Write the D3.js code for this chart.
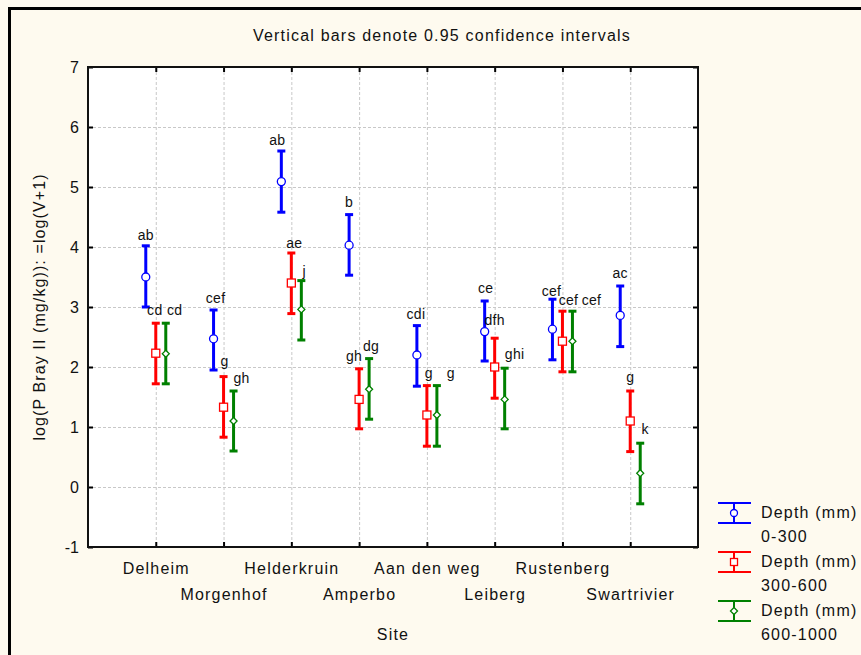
<!DOCTYPE html>
<html>
<head>
<meta charset="utf-8">
<script src="https://cdn.jsdelivr.net/npm/d3@7"></script>
<style>
  body { margin: 0; background: #fefaef; }
  text { font-family: "Liberation Sans", Arial, sans-serif; fill: #111; }
</style>
</head>
<body>
<div id="chart"></div>
<script>
"use strict";

var sites = ["Delheim", "Morgenhof", "Helderkruin", "Amperbo", "Aan den weg", "Leiberg", "Rustenberg", "Swartrivier"];
var depths = ["0-300", "300-600", "600-1000"];
var yTicks = [-1, 0, 1, 2, 3, 4, 5, 6, 7];

// 0-300 mm
var mean0 = [3.50, 2.47, 5.09, 4.03, 2.20, 2.59, 2.63, 2.86];
var low0  = [3.00, 1.95, 4.58, 3.53, 1.68, 2.10, 2.12, 2.34];
var high0 = [4.02, 2.95, 5.60, 4.54, 2.69, 3.10, 3.13, 3.35];
var letters0 = ["ab", "cef", "ab", "b", "cdi", "ce", "cef", "ac"];

// 300-600 mm
var mean1 = [2.23, 1.33, 3.40, 1.46, 1.20, 2.00, 2.43, 1.10];
var low1  = [1.72, 0.83, 2.89, 0.97, 0.68, 1.48, 1.92, 0.59];
var high1 = [2.73, 1.84, 3.90, 1.97, 1.69, 2.48, 2.93, 1.60];
var letters1 = ["cd", "g", "ae", "gh", "g", "dfh", "cef", "g"];

// 600-1000 mm
var mean2 = [2.22, 1.10, 2.96, 1.63, 1.20, 1.46, 2.43, 0.23];
var low2  = [1.72, 0.60, 2.45, 1.13, 0.68, 0.97, 1.92, -0.28];
var high2 = [2.73, 1.60, 3.44, 2.14, 1.69, 1.98, 2.93, 0.73];
var letters2 = ["cd", "gh", "j", "dg", "g", "ghi", "cef", "k"];

// hand placed letter nudges (layout only)
var labelDx  = [[0, 2, -4, 0, -1, 1, -1, 0], [-1, 1, 3, -5, 2, 0, 6, 0], [9, 8, 3, 2, 14, 10, 19, 5]];
var labelGap = [[6, 7, 6, 8, 7, 8, 3, 8], [8, 11, 5, 8, 8, 13, 6, 9], [8, 8, 5, 8, 8, 9, 6, 9]];

var colors = ["#0000ff", "#ff0000", "#008000"];
var offsets = [-10, 0, 10];

var series = [
    {means: mean0, lows: low0, highs: high0, letters: letters0},
    {means: mean1, lows: low1, highs: high1, letters: letters1},
    {means: mean2, lows: low2, highs: high2, letters: letters2}
];

var W = 861, H = 655;
var margin = {left: 88, top: 67, right: 163, bottom: 108};
var width = W - margin.left - margin.right,
    height = H - margin.top - margin.bottom;

var x = d3.scalePoint().domain(sites).range([0, width]).padding(1),
    y = d3.scaleLinear().domain([-1, 7]).range([height, 0]);

var svg0 = d3.select("#chart").append("svg")
    .attr("width", W)
    .attr("height", H);

svg0.append("rect").attr("width", W).attr("height", H).attr("fill", "#fefaef");

// outer frame (left and top only)
svg0.append("path")
    .attr("d", "M9.5," + H + "V8.5H" + W)
    .attr("fill", "none")
    .attr("stroke", "#000")
    .attr("stroke-width", 3);

svg0.append("text")
    .attr("x", 442).attr("y", 41)
    .attr("text-anchor", "middle")
    .attr("font-size", 16)
    .attr("letter-spacing", 1.2)
    .text("Vertical bars denote 0.95 confidence intervals");

var svg = svg0.append("g")
    .attr("transform", "translate(" + margin.left + "," + margin.top + ")");

svg.append("rect")
    .attr("width", width).attr("height", height)
    .attr("fill", "#fff");

// grid
svg.append("g")
    .attr("class", "grid")
    .call(d3.axisLeft(y).tickValues(yTicks.slice(1, -1)).tickSize(-width).tickFormat(""))
    .call(g => g.select(".domain").remove());
svg.append("g")
    .attr("class", "grid")
    .call(d3.axisTop(x).tickSize(-height).tickFormat(""))
    .call(g => g.select(".domain").remove());
svg.selectAll(".grid line")
    .attr("stroke", "#c8c8c8")
    .attr("stroke-dasharray", "3,2");

// axes, ticks pointing in
var yAxis = svg.append("g")
    .call(d3.axisLeft(y).tickValues(yTicks).tickSize(-5).tickPadding(9).tickFormat(d => String(d)));
svg.append("g")
    .attr("transform", "translate(" + width + ",0)")
    .call(d3.axisRight(y).tickValues(yTicks).tickSize(-5).tickFormat(""));
svg.append("g")
    .call(d3.axisTop(x).tickSize(-5).tickFormat(""));
var xAxis = svg.append("g")
    .attr("transform", "translate(0," + height + ")")
    .call(d3.axisBottom(x).tickSize(-5).tickPadding(0));

svg.selectAll(".domain").remove();
svg.selectAll(".tick line").filter(function() { return !this.parentNode.parentNode.classList.contains("grid"); })
    .attr("stroke", "#000").attr("stroke-width", 2);

yAxis.selectAll("text")
    .attr("font-size", 16)
    .attr("font-family", null)
    .attr("fill", "#111");

xAxis.selectAll(".tick text")
    .attr("font-size", 16)
    .attr("font-family", null)
    .attr("fill", "#111")
    .attr("letter-spacing", 1.2)
    .attr("y", (d, i) => i % 2 ? 53 : 27)
    .attr("dy", null);

svg.append("rect")
    .attr("width", width).attr("height", height)
    .attr("fill", "none")
    .attr("stroke", "#111")
    .attr("stroke-width", 2);

// error bars
function marker(sel, k, c, s) {
    if (k == 0) {
        sel.append("circle").attr("r", s).attr("fill", "#fff").attr("stroke", c).attr("stroke-width", 1.3);
    } else if (k == 1) {
        sel.append("rect").attr("x", -s).attr("y", -s).attr("width", 2 * s).attr("height", 2 * s)
            .attr("fill", "#fff").attr("stroke", c).attr("stroke-width", 1.3);
    } else {
        sel.append("path").attr("d", "M0," + (-s) + "L" + s + ",0L0," + s + "L" + (-s) + ",0Z")
            .attr("fill", "#fff").attr("stroke", c).attr("stroke-width", 1.3);
    }
}

series.forEach(function(s, k) {
    var c = colors[k];
    var g = svg.append("g");
    var bars = g.selectAll(".bar" + k)
        .data(sites)
        .enter()
        .append("g")
        .attr("transform", (d, i) => "translate(" + (x(d) + offsets[k]) + ",0)");

    bars.append("line")
        .attr("y1", (d, i) => y(s.lows[i]))
        .attr("y2", (d, i) => y(s.highs[i]))
        .attr("stroke", c).attr("stroke-width", 3);
    bars.append("line")
        .attr("x1", -4).attr("x2", 4)
        .attr("y1", (d, i) => y(s.highs[i])).attr("y2", (d, i) => y(s.highs[i]))
        .attr("stroke", c).attr("stroke-width", 3);
    bars.append("line")
        .attr("x1", -4).attr("x2", 4)
        .attr("y1", (d, i) => y(s.lows[i])).attr("y2", (d, i) => y(s.lows[i]))
        .attr("stroke", c).attr("stroke-width", 3);

    bars.each(function(d, i) {
        var m = d3.select(this).append("g")
            .attr("transform", "translate(0," + y(s.means[i]) + ")");
        marker(m, k, c, k == 2 ? 3.5 : 4);
    });

    bars.append("text")
        .attr("x", (d, i) => labelDx[k][i])
        .attr("y", (d, i) => y(s.highs[i]) - labelGap[k][i])
        .attr("text-anchor", "middle")
        .attr("font-size", 14)
        .attr("letter-spacing", 0.3)
        .text((d, i) => s.letters[i]);
});

// axis titles
svg0.append("text")
    .attr("transform", "translate(45," + (margin.top + height / 2) + ") rotate(-90)")
    .attr("text-anchor", "middle")
    .attr("font-size", 16)
    .attr("letter-spacing", 1.1)
    .text("log(P Bray II (mg/kg)): =log(V+1)");

svg0.append("text")
    .attr("x", margin.left + width / 2).attr("y", 640)
    .attr("text-anchor", "middle")
    .attr("font-size", 16)
    .attr("letter-spacing", 1.2)
    .text("Site");

// legend
var legend = svg0.selectAll(".legend")
    .data(depths)
    .enter()
    .append("g")
    .attr("transform", (d, i) => "translate(734," + (513 + i * 49) + ")");

legend.append("line").attr("x1", -16).attr("x2", 17).attr("y1", -10).attr("y2", -10)
    .attr("stroke", (d, i) => colors[i]).attr("stroke-width", 2);
legend.append("line").attr("x1", -16).attr("x2", 17).attr("y1", 10).attr("y2", 10)
    .attr("stroke", (d, i) => colors[i]).attr("stroke-width", 2);
legend.append("line").attr("y1", -10).attr("y2", 10)
    .attr("stroke", (d, i) => colors[i]).attr("stroke-width", 2);
legend.each(function(d, i) {
    marker(d3.select(this), i, colors[i], 3.5);
});
legend.append("text")
    .attr("x", 27).attr("y", 5)
    .attr("font-size", 16)
    .attr("letter-spacing", 1.2)
    .text("Depth (mm)");
legend.append("text")
    .attr("x", 27).attr("y", 29)
    .attr("font-size", 16)
    .attr("letter-spacing", 1.2)
    .text(d => d);
</script>
</body>
</html>
